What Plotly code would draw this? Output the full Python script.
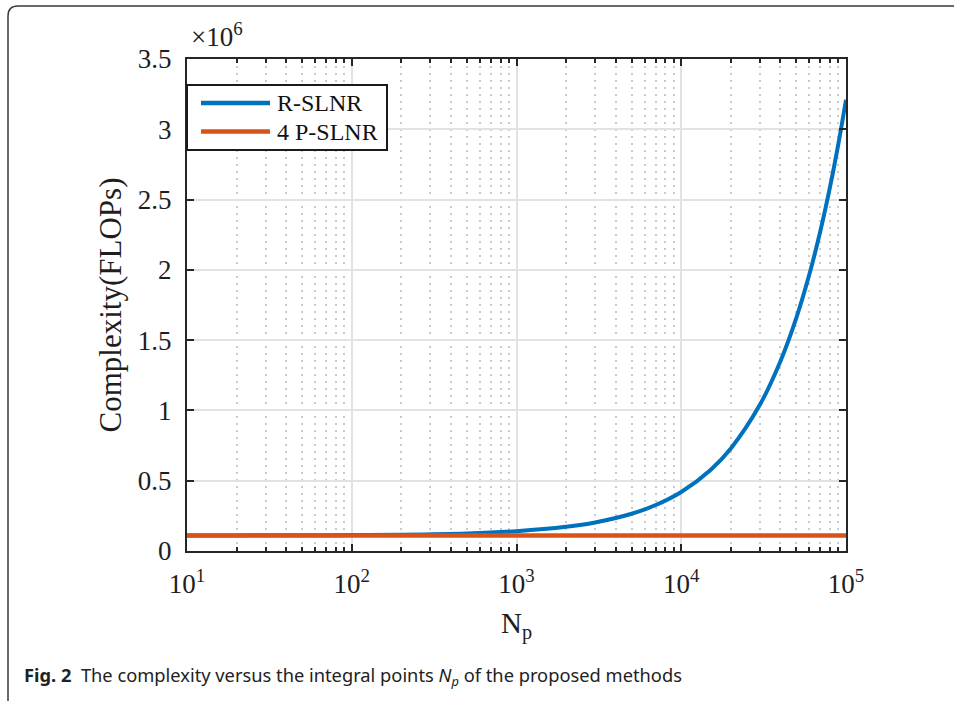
import plotly.graph_objects as go

# Integral points N_p and the resulting complexity (FLOPs)
np_points = [10, 20, 50, 100, 200, 500, 1000, 2000, 3000, 5000, 7000,
             10000, 15000, 20000, 30000, 40000, 50000, 60000, 70000,
             80000, 90000, 100000]
r_slnr = [110000, 111000, 112000, 113000, 116000, 125000, 141000, 172000,
          203000, 265000, 327000, 420000, 575000, 730000, 1040000, 1350000,
          1660000, 1970000, 2280000, 2590000, 2900000, 3210000]

p_points = [10, 100, 1000, 10000, 100000]
p_slnr = [110000, 110000, 110000, 110000, 110000]

series_names = ["R-SLNR", "4 P-SLNR"]
series_colors = ["#0072BD", "#D95319"]

y_ticks = [0, 500000, 1000000, 1500000, 2000000, 2500000, 3000000, 3500000]
y_ticktext = ["0", "0.5", "1", "1.5", "2", "2.5", "3", "3.5"]
x_ticks = [10, 100, 1000, 10000, 100000]
x_ticktext = ["10<sup>1</sup>", "10<sup>2</sup>", "10<sup>3</sup>",
              "10<sup>4</sup>", "10<sup>5</sup>"]
x_minor = [m * 10 ** e for e in range(1, 5) for m in range(2, 10)]

W, H = 954, 701
ML, MR, MT, MB = 187, 108, 59, 150
PW, PH = W - ML - MR, H - MT - MB


def px(x):
    return (x - ML) / PW


def py(y):
    return (H - MB - y) / PH


SERIF = "Liberation Serif"
AXIS = "#262626"
TXT = "#1e1e1e"

fig = go.Figure()
fig.add_trace(go.Scatter(x=np_points, y=r_slnr, mode="lines", name=series_names[0],
                         line=dict(color=series_colors[0], width=4, shape="spline")))
fig.add_trace(go.Scatter(x=p_points, y=p_slnr, mode="lines", name=series_names[1],
                         line=dict(color=series_colors[1], width=4.5)))

fig.update_xaxes(
    type="log", range=[1, 5],
    tickvals=x_ticks, ticktext=x_ticktext,
    ticks="inside", ticklen=7, tickwidth=2, tickcolor=AXIS,
    showline=True, linecolor=AXIS, linewidth=2, mirror="allticks",
    showgrid=True, gridcolor="#e2e2e2", gridwidth=2,
    zeroline=False,
    tickfont=dict(family=SERIF, size=27, color=TXT),
    ticklabelstandoff=8,
    minor=dict(tickvals=x_minor, ticks="inside", ticklen=4, tickwidth=2,
               tickcolor=AXIS, showgrid=True, gridcolor="#cacaca",
               gridwidth=2, griddash="2px,5px"),
    title=dict(text="N<sub>p</sub>", font=dict(family=SERIF, size=29, color=TXT),
               standoff=14),
)
fig.update_yaxes(
    range=[0, 3500000],
    tickvals=y_ticks, ticktext=y_ticktext,
    ticks="inside", ticklen=7, tickwidth=2, tickcolor=AXIS,
    showline=True, linecolor=AXIS, linewidth=2, mirror="allticks",
    showgrid=True, gridcolor="#e2e2e2", gridwidth=2,
    zeroline=False,
    tickfont=dict(family=SERIF, size=27, color=TXT),
    ticklabelstandoff=8,
    title=dict(text="Complexity(FLOPs)", font=dict(family=SERIF, size=31, color=TXT),
               standoff=7),
)

# rounded frame around the figure
fl, ft, fr, fb, rad = 8, 6, 970, 715, 10
frame_path = (f"M {px(fl)},{py(fb)} L {px(fl)},{py(ft + rad)} "
              f"Q {px(fl)},{py(ft)} {px(fl + rad)},{py(ft)} L {px(fr)},{py(ft)}")

shapes = [dict(type="path", xref="paper", yref="paper", path=frame_path,
               line=dict(color="#3a3a3a", width=1.5))]
annotations = []

# legend box in the upper-left corner of the axes
lg_l, lg_t, lg_r, lg_b = 187, 85, 387, 150
shapes.append(dict(type="rect", xref="paper", yref="paper",
                   x0=px(lg_l), x1=px(lg_r), y0=py(lg_b), y1=py(lg_t),
                   fillcolor="white", line=dict(color="#1a1a1a", width=2),
                   layer="above"))
for i, (name, color) in enumerate(zip(series_names, series_colors)):
    yy = 103 + i * 28.5
    shapes.append(dict(type="line", xref="paper", yref="paper",
                       x0=px(201), x1=px(270), y0=py(yy), y1=py(yy),
                       line=dict(color=color, width=4.5), layer="above"))
    annotations.append(dict(text=name, xref="paper", yref="paper",
                            x=px(275), y=py(yy), xanchor="left", yanchor="middle",
                            showarrow=False,
                            font=dict(family=SERIF, size=24, color="#111")))

annotations += [
    dict(text="\u00d710<sup>6</sup>", xref="paper", yref="paper",
         x=px(189), y=py(54), xanchor="left", yanchor="bottom",
         showarrow=False, font=dict(family=SERIF, size=27, color=TXT)),
    dict(text="<b>Fig. 2</b>\u00a0\u00a0The complexity versus the integral points "
              "<i>N<sub>p</sub></i> of the proposed methods",
         xref="paper", yref="paper", x=px(22), y=py(676),
         xanchor="left", yanchor="middle", showarrow=False,
         font=dict(family="Noto Sans", size=18.3, color="#222")),
]

fig.update_layout(
    width=W, height=H,
    margin=dict(l=ML, r=MR, t=MT, b=MB),
    paper_bgcolor="white", plot_bgcolor="white",
    showlegend=False,
    shapes=shapes,
    annotations=annotations,
)

fig.write_html("out.html")
